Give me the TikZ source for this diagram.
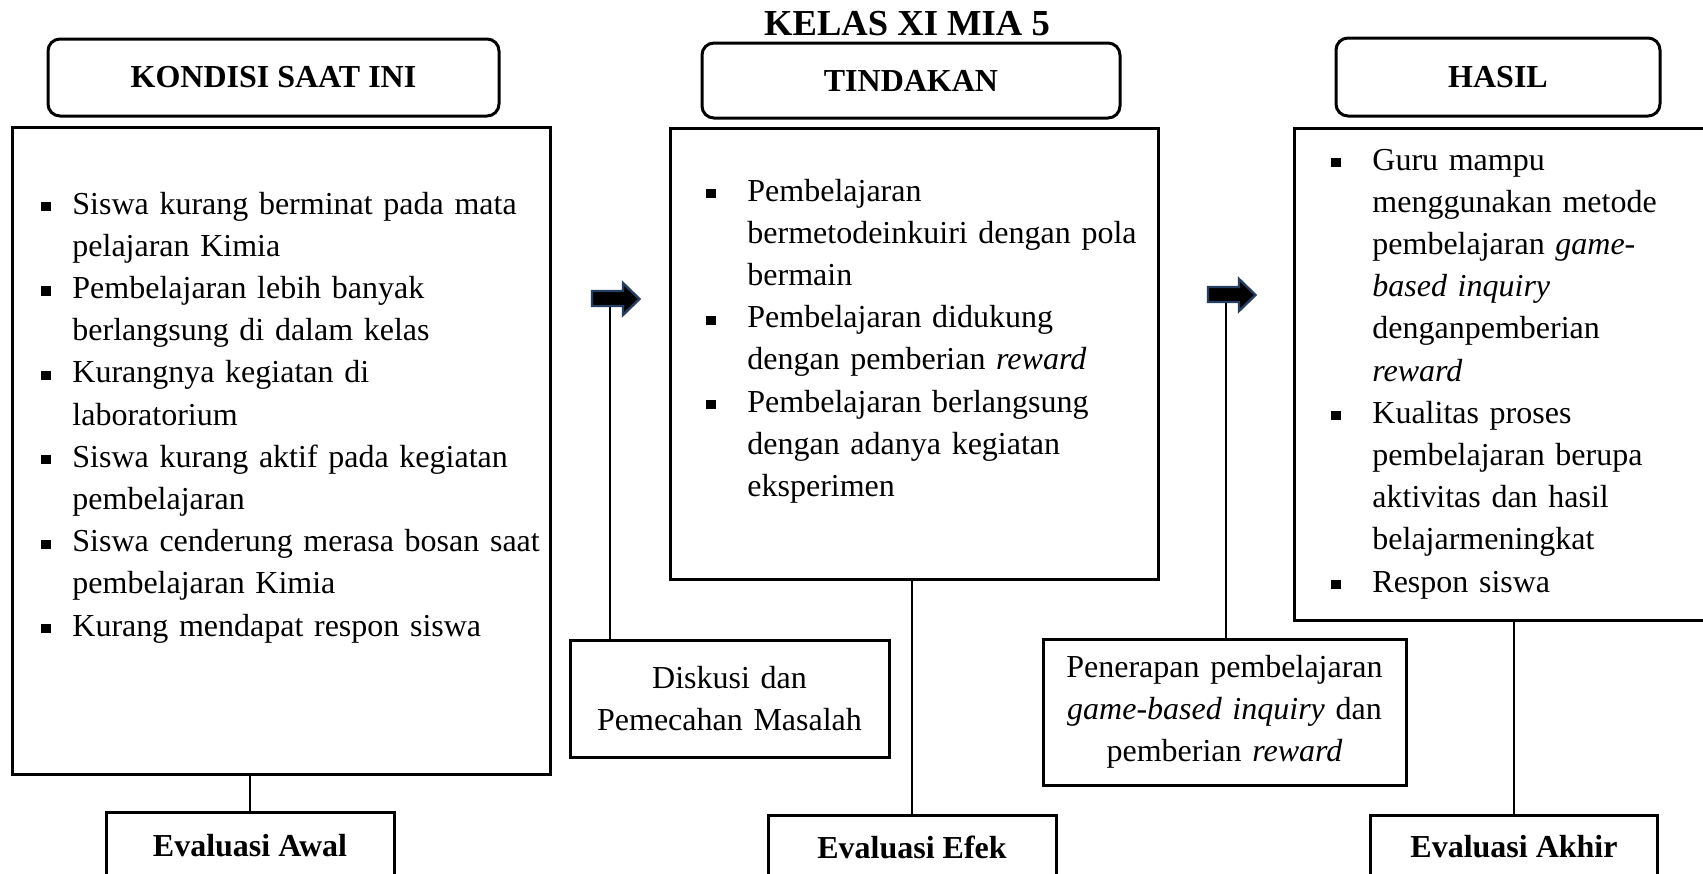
\documentclass[tikz,border=0pt]{standalone}
\usepackage{fontspec}
\setmainfont{Liberation Serif}
\definecolor{arrowblue}{RGB}{38,62,96}
\newcommand\bulA{\makebox[15.5pt][l]{\rule[1.4pt]{4.6pt}{4.6pt}}}
\newcommand\bulB{\makebox[20.5pt][l]{\rule[1.4pt]{4.6pt}{4.6pt}}}
\newcommand\indA{\hspace*{15.5pt}}
\newcommand\indB{\hspace*{20.5pt}}
\begin{document}
\begin{tikzpicture}[x=0.5pt,y=-0.5pt,
  box/.style={draw, line width=1.5pt, inner sep=0pt, outer sep=0pt},
  rbox/.style={box, rounded corners=6pt},
  conn/.style={line width=0.8pt},
  bodyfont/.style={font=\fontsize{16}{21.1}\selectfont},
  body/.style={bodyfont, inner sep=0pt, align=left, anchor=base west},
  head/.style={font=\fontsize{16}{19}\selectfont\bfseries},
  bigtitle/.style={font=\fontsize{18.3}{21}\selectfont\bfseries, inner sep=0pt},
  blockarrow/.style={fill=black, draw=arrowblue, line width=1.2pt, line join=miter}
]
\useasboundingbox (0,0) rectangle (1703,873);

% title
\node[bigtitle] (title) at (907,24) {KELAS XI MIA 5};

% header boxes
\node[rbox, head, minimum width=225.5pt, minimum height=38.5pt] (h1) at (273.5,77.5) {KONDISI SAAT INI};
\node[rbox, head, minimum width=209pt, minimum height=37.5pt] (h2) at (911,80.5) {TINDAKAN};
\node[rbox, head, minimum width=162pt, minimum height=39pt] (h3) at (1498,77) {HASIL};

% main boxes
\node[box, minimum width=269pt, minimum height=323.5pt] (b1) at (281,450.5) {};
\node[box, minimum width=244pt, minimum height=225.5pt] (b2) at (914,353.5) {};
\node[box, minimum width=218pt, minimum height=246pt] (b3) at (1512,374) {};

% box texts
\node[body, text width=255pt] (t1) at (41,214) {%
\bulA\makebox[229pt][s]{Siswa kurang berminat pada mata}\\
\indA pelajaran Kimia\\
\bulA Pembelajaran lebih banyak\\
\indA berlangsung di dalam kelas\\
\bulA Kurangnya kegiatan di\\
\indA laboratorium\\
\bulA Siswa kurang aktif pada kegiatan\\
\indA pembelajaran\\
\bulA Siswa cenderung merasa bosan saat\\
\indA pembelajaran Kimia\\
\bulA Kurang mendapat respon siswa};

\node[body, text width=230pt] (t2) at (706,201) {%
\bulB Pembelajaran\\
\indB bermetodeinkuiri dengan pola\\
\indB bermain\\
\bulB Pembelajaran didukung\\
\indB dengan pemberian \textit{reward}\\
\bulB Pembelajaran berlangsung\\
\indB dengan adanya kegiatan\\
\indB eksperimen};

\node[body, text width=185pt] (t3) at (1331,170) {%
\bulB Guru mampu\\
\indB menggunakan metode\\
\indB pembelajaran \textit{game-}\\
\indB \textit{based inquiry}\\
\indB denganpemberian\\
\indB \textit{reward}\\
\bulB Kualitas proses\\
\indB pembelajaran berupa\\
\indB aktivitas dan hasil\\
\indB belajarmeningkat\\
\bulB Respon siswa};

% middle boxes
\node[box, bodyfont, minimum width=159.5pt, minimum height=58.5pt, text width=159.5pt, align=center] (disk) at (729.5,698.5) {Diskusi dan\\Pemecahan Masalah};
\node[box, bodyfont, minimum width=181.5pt, minimum height=73pt, text width=181.5pt, align=center] (pen) at (1224.5,712) {Penerapan pembelajaran\\\textit{game-based inquiry} dan\\pemberian \textit{reward}};

% evaluation boxes
\node[box, head, minimum width=144pt, minimum height=33.5pt] (awal) at (250,845.5) {Evaluasi Awal};
\node[box, head, minimum width=144pt, minimum height=32pt] (efek) at (912,847) {Evaluasi Efek};
\node[box, head, minimum width=143.5pt, minimum height=32pt] (akhir) at (1514,847) {Evaluasi Akhir};

% block arrows
\draw[blockarrow] (592,291) -- (623,291) -- (623,283) -- (639.5,299) -- (623,315) -- (623,306) -- (592,306) -- cycle;
\draw[blockarrow] (1208,287) -- (1239,287) -- (1239,279) -- (1255.5,295) -- (1239,311) -- (1239,302) -- (1208,302) -- cycle;
\coordinate (a1) at (610,307);
\coordinate (a2) at (1226,303);

% connectors
\draw[conn] (a1) -- (a1 |- disk.north);
\draw[conn] (a2) -- (a2 |- pen.north);
\draw[conn] (awal.north |- b1.south) -- (awal.north);
\draw[conn] (efek.north |- b2.south) -- (efek.north);
\draw[conn] (akhir.north |- b3.south) -- (akhir.north);
\end{tikzpicture}
\end{document}
